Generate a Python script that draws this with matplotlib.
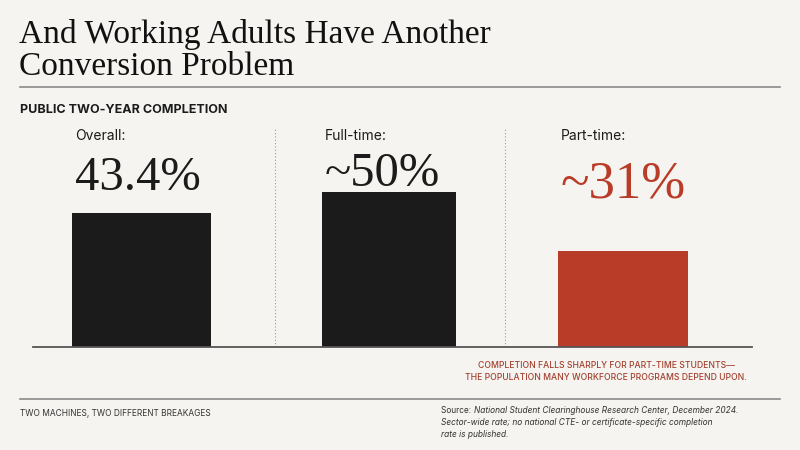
import matplotlib.pyplot as plt

categories = ["Overall:", "Full-time:", "Part-time:"]
values = [43.4, 50, 31]
value_labels = ["43.4%", "~50%", "~31%"]

title_lines = ["And Working Adults Have Another", "Conversion Problem"]
subtitle = "PUBLIC TWO-YEAR COMPLETION"
note_lines = ["COMPLETION FALLS SHARPLY FOR PART-TIME STUDENTS\u2014",
              "THE POPULATION MANY WORKFORCE PROGRAMS DEPEND UPON."]
footer_left = "TWO MACHINES, TWO DIFFERENT BREAKAGES"
source_head = "Source: "
source_lines = ["National Student Clearinghouse Research Center, December 2024.",
                "Sector-wide rate; no national CTE- or certificate-specific completion",
                "rate is published."]

BG = "#f6f4f0"
INK = "#1b1b1b"
RED = "#b83c28"
SERIF = "Liberation Serif"
SANS = "Inter"

bar_pos = [0, 1.01, 1.965]
bar_w = [0.57, 0.55, 0.53]
bar_colors = [INK, INK, RED]

fig = plt.figure(figsize=(8, 4.5), dpi=100, facecolor=BG)

# bar panel
ax = fig.add_axes([33 / 800, 1 - 347 / 450, 719 / 800, 220 / 450])
ax.set_facecolor("none")
ax.bar(bar_pos, values, width=bar_w, color=bar_colors, zorder=2)
ax.set_xlim(-0.443, 2.492)
ax.set_ylim(0, 71)
for s in ["top", "right", "left"]:
    ax.spines[s].set_visible(False)
ax.spines["bottom"].set_color("#555555")
ax.spines["bottom"].set_linewidth(1.3)
ax.set_xticks([])
ax.set_yticks([])
for xd in [0.545, 1.484]:
    ax.axvline(xd, color="#9a9a9a", lw=0.8, ls=(0, (1, 2)), zorder=1)

# labels above bars
for i, (cat, lab) in enumerate(zip(categories, value_labels)):
    left = bar_pos[i] - bar_w[i] / 2
    ax.text(left + 0.012, 1 - (136 - 127) / 220, cat, transform=ax.get_xaxis_transform(),
            fontsize=10, family=SANS, color=INK, va="center", ha="left")
    big = 35 if i < 2 else 38
    ybase = [190, 186, 198][i]
    ax.text(left + 0.012, 1 - (ybase - 127) / 220, lab, transform=ax.get_xaxis_transform(),
            fontsize=big, family=SERIF, color=bar_colors[i], va="baseline", ha="left")

# header
for line, yb in zip(title_lines, [43, 75]):
    fig.text(19 / 800, 1 - yb / 450, line, fontsize=24, family=SERIF, color="#111111",
             va="baseline", ha="left")
fig.add_artist(plt.Line2D([20 / 800, 780 / 800], [1 - 87 / 450] * 2, color="#8a8a8a", lw=1.2))
fig.text(20 / 800, 1 - 110 / 450, subtitle, fontsize=9, family=SANS, weight="bold",
         color=INK, va="center", ha="left")

# note
for line, yc in zip(note_lines, [365, 377]):
    fig.text(606 / 800, 1 - yc / 450, line, fontsize=6.2, family=SANS, color="#a3402f",
             va="center", ha="center", weight="medium")

# footer
fig.add_artist(plt.Line2D([20 / 800, 780 / 800], [1 - 399 / 450] * 2, color="#8a8a8a", lw=1.2))
fig.text(20 / 800, 1 - 414 / 450, footer_left, fontsize=6, family=SANS, color="#333333",
         va="center", ha="left")
head = fig.text(441 / 800, 1 - 413 / 450, source_head, fontsize=6, family=SANS,
                color="#333333", va="baseline", ha="left")
plt.annotate(source_lines[0], xy=(1, 0), xycoords=head, va="bottom", ha="left",
             fontsize=6, family=SANS, style="italic", color="#333333",
             annotation_clip=False)
for line, yb in zip(source_lines[1:], [425, 437]):
    fig.text(441 / 800, 1 - yb / 450, line, fontsize=6, family=SANS, style="italic",
             color="#333333", va="baseline", ha="left")

fig.savefig("out.png", dpi=100, facecolor=BG)
